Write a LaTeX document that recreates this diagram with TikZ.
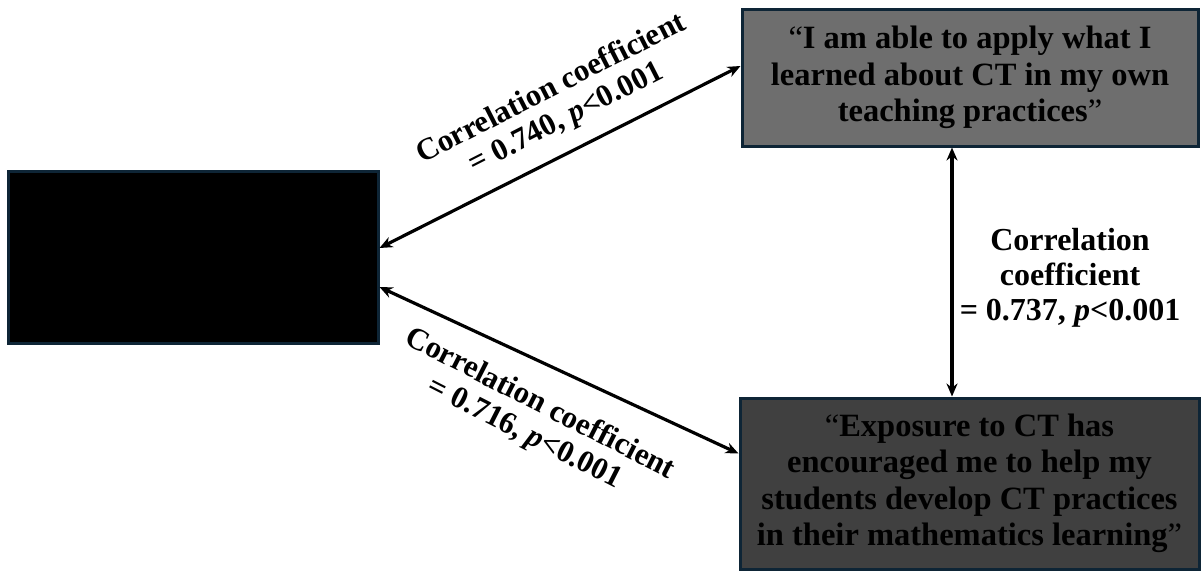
\documentclass[tikz,border=0pt]{standalone}
\usepackage{fontspec}
\setmainfont{Liberation Serif}
\usetikzlibrary{arrows.meta}
\definecolor{navy}{HTML}{0E2536}
\definecolor{topfill}{HTML}{6E6E6E}
\definecolor{botfill}{HTML}{404040}
\tikzset{
  box/.style={draw=navy, line width=3pt, inner sep=0pt, align=center,
    font=\fontsize{32.5}{36.5}\selectfont\bfseries},
  conn/.style={line width=3.2pt, {Stealth[length=13pt,width=11pt]}-{Stealth[length=13pt,width=11pt]}},
  lab/.style={align=center, inner sep=0pt, font=\fontsize{31}{33}\selectfont\bfseries},
  vlab/.style={align=center, inner sep=0pt, font=\fontsize{32}{35}\selectfont\bfseries}
}
\newcommand{\oq}{\textmd{``}}
\newcommand{\cq}{\textmd{''}}
\begin{document}
\begin{tikzpicture}[x=1pt,y=-1pt]
\useasboundingbox (0,0) rectangle (1201,571);
\node[box, fill=black, minimum width=370pt, minimum height=172pt] (L) at (193,257) {};
\node[box, fill=topfill, minimum width=456pt, minimum height=137pt] (T) at (970,77.5)
  {\oq I am able to apply what I\\learned about CT in my own\\teaching practices\cq};
\node[box, fill=botfill, minimum width=459pt, minimum height=171pt] (B) at (969.5,483.5)
  {\oq Exposure to CT has\\encouraged me to help my\\students develop CT practices\\in their mathematics learning\cq};
\draw[conn] ([yshift=9pt]L.east) -- ([yshift=11.5pt]T.west);
\draw[conn] ([yshift=-30pt]L.east) -- ([yshift=30pt]B.west);
\draw[conn] ([xshift=-18pt]T.south) -- ([xshift=-17.5pt]B.north);
\node[lab, rotate=27] (l1) at (559,104) {Correlation coefficient\\= 0.740, \textit{p}<0.001};
\node[lab, rotate=-27] (l2) at (532,419) {Correlation coefficient\\= 0.716, \textit{p}<0.001};
\node[vlab] (l3) at (1070,278) {Correlation\\coefficient\\= 0.737, \textit{p}<0.001};
\end{tikzpicture}
\end{document}
